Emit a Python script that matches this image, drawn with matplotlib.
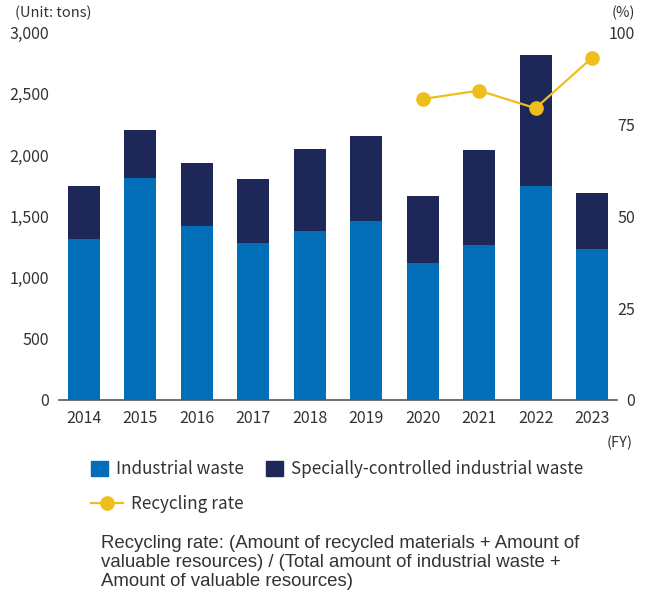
import numpy as np
import matplotlib
matplotlib.use("Agg")
import matplotlib.pyplot as plt
from matplotlib.patches import Patch
from matplotlib.lines import Line2D

# data (tons, %)
years = ['2014', '2015', '2016', '2017', '2018', '2019', '2020', '2021', '2022', '2023']
industrial = [1314, 1812, 1420, 1282, 1380, 1461, 1118, 1265, 1747, 1233]
total = [1747, 2204, 1935, 1804, 2049, 2155, 1665, 2041, 2816, 1690]
special = [t - i for t, i in zip(total, industrial)]
rate_years = ['2020', '2021', '2022', '2023']
recycling_rate = [81.9, 84.2, 79.4, 93.1]

# colours
c_ind = '#036EB8'
c_spec = '#1E2858'
c_rate = '#F0BE1A'
c_text = '#333333'

gothic = ['Noto Sans CJK JP', 'DejaVu Sans']
plt.rcParams['font.family'] = gothic

W, H = 649, 594
fig = plt.figure(figsize=(W / 100, H / 100), dpi=100)
ax = fig.add_axes([59 / W, 1 - 400 / H, (617 - 59) / W, (400 - 32.5) / H])

x = np.arange(len(years))
ax.bar(x, industrial, width=0.567, color=c_ind, zorder=2)
ax.bar(x, special, bottom=industrial, width=0.567, color=c_spec, zorder=2)

ax.set_ylim(0, 3000)
ax.set_xlim(-0.443, 9.444)
ax.set_yticks([0, 500, 1000, 1500, 2000, 2500, 3000])
ax.set_yticklabels(['0', '500', '1,000', '1,500', '2,000', '2,500', '3,000'])
ax.set_xticks(x)
ax.set_xticklabels(years)
ax.tick_params(axis='y', length=0, pad=7, labelsize=11.5, colors=c_text)
ax.tick_params(axis='x', length=0, pad=7.5, labelsize=11.5, colors=c_text)
for s in ['top', 'left', 'right']:
    ax.spines[s].set_visible(False)
ax.spines['bottom'].set_color('#555555')
ax.spines['bottom'].set_linewidth(1.2)
ax.spines['bottom'].set_zorder(3)

ax2 = ax.twinx()
rx = [years.index(y) for y in rate_years]
ax2.plot(rx, recycling_rate, color=c_rate, lw=1.6, marker='o', ms=9.5, zorder=4)
ax2.set_ylim(0, 100)
ax2.set_yticks([0, 25, 50, 75, 100])
ax2.tick_params(axis='y', length=0, pad=13, labelsize=11.5, colors=c_text)
for lab in ax2.get_yticklabels():
    lab.set_horizontalalignment('right')
for s in ['top', 'left', 'right', 'bottom']:
    ax2.spines[s].set_visible(False)

fig.text(15 / W, 1 - 13 / H, '(Unit: tons)', ha='left', va='center', fontsize=10.5, color=c_text)
fig.text(635 / W, 1 - 13 / H, '(%)', ha='right', va='center', fontsize=10.5, color=c_text)
fig.text(633 / W, 1 - 443 / H, '(FY)', ha='right', va='center', fontsize=10.5, color=c_text)

# legends
h1 = [Patch(color=c_ind), Patch(color=c_spec)]
leg1 = fig.legend(h1, ['Industrial waste', 'Specially-controlled industrial waste'],
                  loc='center left', bbox_to_anchor=(91 / W, 1 - 469 / H), ncol=2,
                  frameon=False, borderpad=0, borderaxespad=0, fontsize=12.3,
                  handlelength=1.0, handleheight=1.0, handletextpad=0.45,
                  columnspacing=1.3, labelcolor=c_text)
h2 = [Line2D([], [], color=c_rate, lw=1.6, marker='o', ms=9.5)]
leg2 = fig.legend(h2, ['Recycling rate'],
                  loc='center left', bbox_to_anchor=(91 / W, 1 - 504 / H),
                  frameon=False, borderpad=0, borderaxespad=0, fontsize=12.3,
                  handlelength=1.88, handletextpad=0.45, labelcolor=c_text)

note = ['Recycling rate: (Amount of recycled materials + Amount of',
        'valuable resources) / (Total amount of industrial waste +',
        'Amount of valuable resources)']
for k, line in enumerate(note):
    fig.text(101 / W, 1 - (543 + 19.5 * k) / H, line, ha='left', va='center',
             fontsize=13.4, color=c_text, family=['Liberation Sans', 'DejaVu Sans'])

fig.savefig('out.png', dpi=100)
